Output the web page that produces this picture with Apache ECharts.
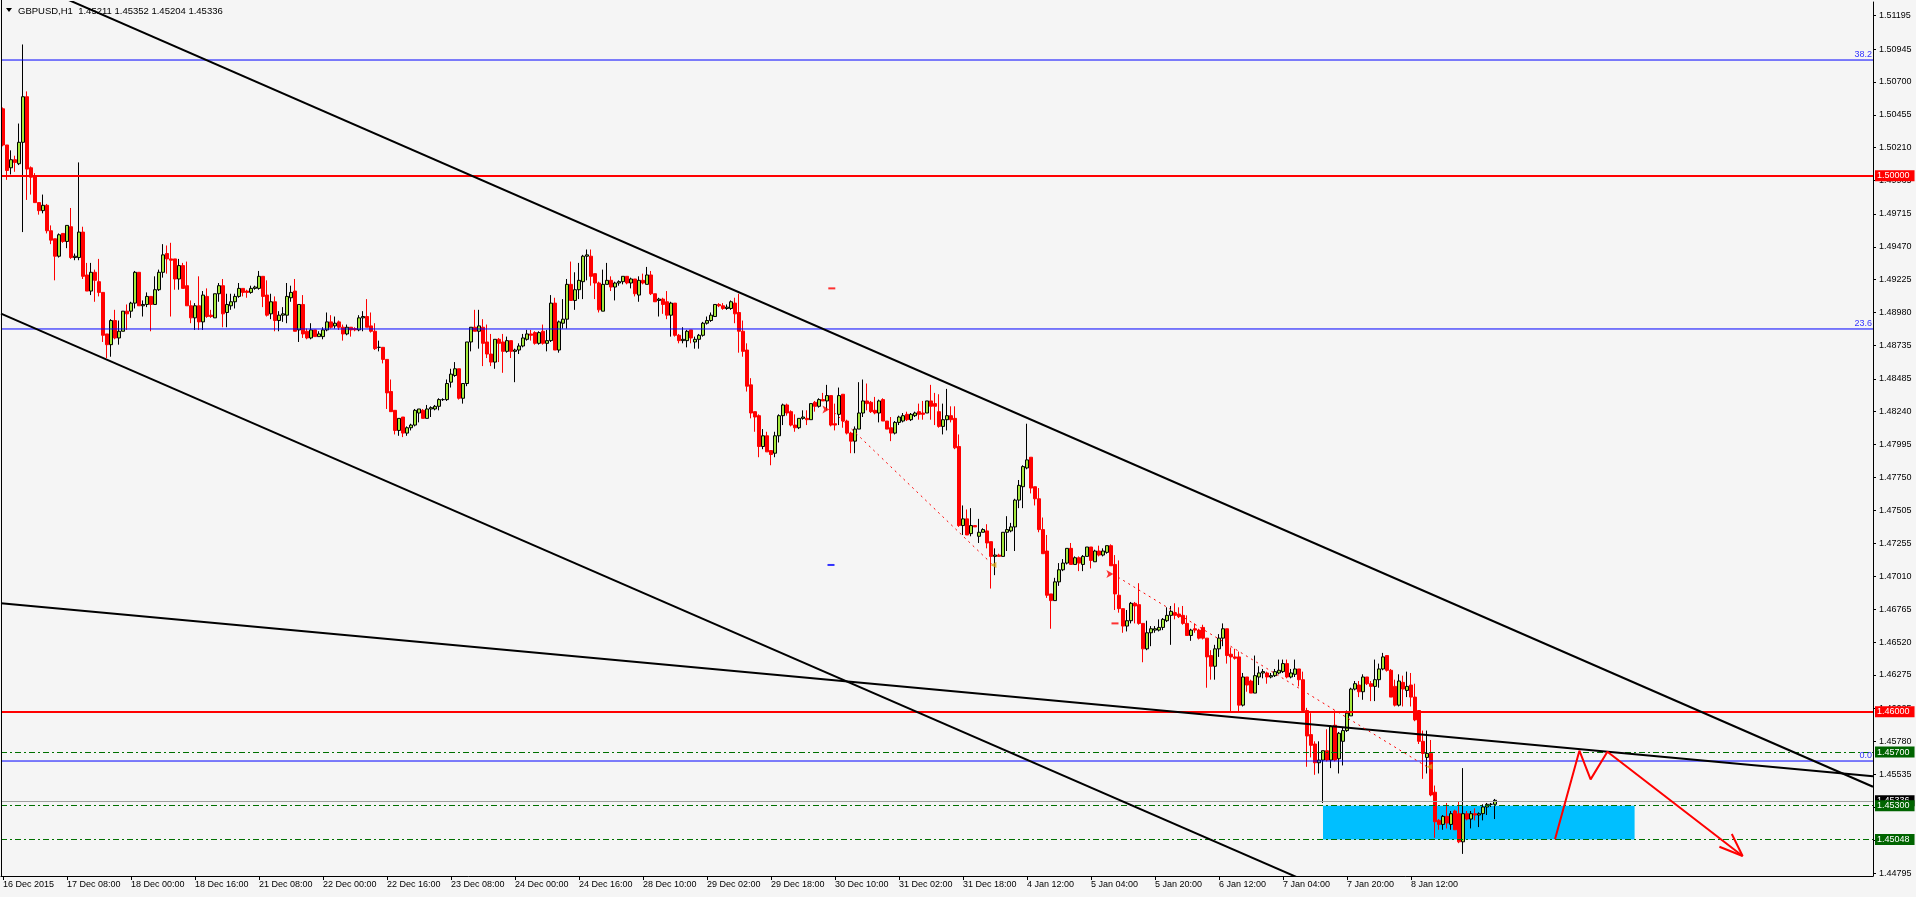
<!DOCTYPE html>
<html>
<head>
<meta charset="utf-8">
<script src="https://cdn.jsdelivr.net/npm/echarts@6/dist/echarts.min.js"></script>
<style>
html,body{margin:0;padding:0;background:#f5f5f5;}
#c{width:1916px;height:897px;}
</style>
</head>
<body>
<div id="c"></div>
<script>
// ---------------- data ----------------
const symbolTitle = 'GBPUSD,H1  1.45211 1.45352 1.45204 1.45336';
const timeLabels = ['16 Dec 2015','17 Dec 08:00','18 Dec 00:00','18 Dec 16:00','21 Dec 08:00','22 Dec 00:00','22 Dec 16:00','23 Dec 08:00','24 Dec 00:00','24 Dec 16:00','28 Dec 10:00','29 Dec 02:00','29 Dec 18:00','30 Dec 10:00','31 Dec 02:00','31 Dec 18:00','4 Jan 12:00','5 Jan 04:00','5 Jan 20:00','6 Jan 12:00','7 Jan 04:00','7 Jan 20:00','8 Jan 12:00','11 Jan 04:00'];
const yTickLabels = ['1.44795','1.45040','1.45285','1.45535','1.45780','1.46025','1.46275','1.46520','1.46765','1.47010','1.47255','1.47505','1.47750','1.47995','1.48240','1.48485','1.48735','1.48980','1.49225','1.49470','1.49715','1.49965','1.50210','1.50455','1.50700','1.50945','1.51195'];
// hourly bars: [open, high, low, close]
const ohlc = [
[1.5050,1.5051,1.5022,1.5023],[1.5023,1.5023,1.4997,1.5004],[1.5006,1.5019,1.5001,1.5012],[1.5012,1.5015,1.5003,1.5010],
[1.5009,1.5039,1.5008,1.5025],[1.5025,1.5098,1.4958,1.5059],[1.5059,1.5063,1.4982,1.5005],[1.5006,1.5007,1.4986,1.4999],
[1.5000,1.5002,1.4980,1.4980],[1.4980,1.4980,1.4971,1.4974],[1.4974,1.4986,1.4972,1.4978],[1.4978,1.4979,1.4957,1.4959],
[1.4959,1.4963,1.4949,1.4952],[1.4953,1.4953,1.4922,1.4940],[1.4940,1.4957,1.4939,1.4956],[1.4957,1.4957,1.4950,1.4951],
[1.4951,1.4963,1.4946,1.4963],[1.4962,1.4976,1.4938,1.4939],[1.4939,1.4942,1.4937,1.4940],[1.4939,1.5010,1.4937,1.4958],
[1.4958,1.4962,1.4923,1.4925],[1.4926,1.4935,1.4914,1.4914],[1.4914,1.4935,1.4911,1.4928],[1.4928,1.4930,1.4906,1.4922],
[1.4921,1.4938,1.4910,1.4913],[1.4913,1.4913,1.4876,1.4881],[1.4882,1.4882,1.4864,1.4874],[1.4874,1.4893,1.4865,1.4892],
[1.4892,1.4900,1.4878,1.4879],[1.4879,1.4892,1.4874,1.4884],[1.4884,1.4899,1.4884,1.4899],[1.4899,1.4904,1.4885,1.4897],
[1.4899,1.4906,1.4894,1.4905],[1.4905,1.4929,1.4901,1.4928],[1.4928,1.4928,1.4903,1.4903],[1.4903,1.4907,1.4895,1.4904],
[1.4904,1.4913,1.4902,1.4910],[1.4910,1.4910,1.4884,1.4904],[1.4904,1.4925,1.4904,1.4915],[1.4915,1.4930,1.4914,1.4928],
[1.4928,1.4949,1.4924,1.4941],[1.4942,1.4948,1.4927,1.4938],[1.4938,1.4950,1.4895,1.4937],[1.4938,1.4938,1.4915,1.4923],
[1.4923,1.4938,1.4915,1.4933],[1.4933,1.4935,1.4916,1.4916],[1.4918,1.4936,1.4903,1.4903],[1.4903,1.4907,1.4890,1.4894],
[1.4894,1.4905,1.4885,1.4903],[1.4903,1.4925,1.4885,1.4891],[1.4891,1.4914,1.4885,1.4911],[1.4910,1.4916,1.4894,1.4895],
[1.4896,1.4900,1.4894,1.4895],[1.4894,1.4912,1.4894,1.4912],[1.4912,1.4920,1.4906,1.4918],[1.4918,1.4923,1.4887,1.4897],
[1.4898,1.4912,1.4887,1.4904],[1.4903,1.4912,1.4900,1.4906],[1.4906,1.4912,1.4901,1.4910],[1.4910,1.4920,1.4909,1.4916],
[1.4916,1.4916,1.4910,1.4913],[1.4914,1.4915,1.4909,1.4913],[1.4913,1.4918,1.4912,1.4916],[1.4916,1.4918,1.4915,1.4917],
[1.4916,1.4929,1.4915,1.4925],[1.4925,1.4925,1.4902,1.4910],[1.4911,1.4922,1.4895,1.4896],[1.4897,1.4912,1.4893,1.4906],
[1.4906,1.4910,1.4884,1.4892],[1.4892,1.4899,1.4884,1.4896],[1.4896,1.4902,1.4891,1.4897],[1.4896,1.4920,1.4890,1.4910],
[1.4909,1.4918,1.4906,1.4913],[1.4914,1.4923,1.4884,1.4884],[1.4885,1.4904,1.4876,1.4904],[1.4904,1.4911,1.4879,1.4882],
[1.4884,1.4886,1.4878,1.4879],[1.4879,1.4890,1.4878,1.4885],[1.4885,1.4885,1.4880,1.4880],[1.4880,1.4884,1.4880,1.4882],
[1.4880,1.4887,1.4878,1.4885],[1.4885,1.4898,1.4884,1.4891],[1.4891,1.4896,1.4886,1.4887],[1.4888,1.4895,1.4886,1.4890],
[1.4891,1.4892,1.4885,1.4887],[1.4887,1.4889,1.4877,1.4882],[1.4882,1.4889,1.4881,1.4887],[1.4887,1.4887,1.4880,1.4885],
[1.4886,1.4887,1.4884,1.4885],[1.4885,1.4896,1.4884,1.4894],[1.4894,1.4899,1.4884,1.4895],[1.4895,1.4908,1.4887,1.4887],
[1.4888,1.4898,1.4883,1.4884],[1.4884,1.4890,1.4870,1.4871],[1.4872,1.4877,1.4869,1.4872],[1.4872,1.4872,1.4860,1.4863],
[1.4863,1.4863,1.4826,1.4838],[1.4839,1.4848,1.4824,1.4824],[1.4825,1.4825,1.4807,1.4810],[1.4810,1.4819,1.4806,1.4819],
[1.4820,1.4820,1.4805,1.4808],[1.4808,1.4813,1.4806,1.4812],[1.4812,1.4815,1.4810,1.4814],[1.4814,1.4826,1.4813,1.4825],
[1.4823,1.4826,1.4816,1.4826],[1.4825,1.4826,1.4819,1.4819],[1.4819,1.4829,1.4819,1.4826],[1.4826,1.4828,1.4820,1.4827],
[1.4826,1.4829,1.4825,1.4828],[1.4828,1.4834,1.4825,1.4833],[1.4833,1.4834,1.4832,1.4833],[1.4833,1.4848,1.4832,1.4845],
[1.4846,1.4856,1.4842,1.4852],[1.4851,1.4861,1.4850,1.4856],[1.4856,1.4856,1.4833,1.4834],[1.4834,1.4845,1.4830,1.4845],
[1.4845,1.4876,1.4843,1.4876],[1.4876,1.4887,1.4869,1.4887],[1.4887,1.4900,1.4884,1.4884],[1.4884,1.4900,1.4871,1.4888],
[1.4887,1.4893,1.4858,1.4875],[1.4876,1.4889,1.4864,1.4867],[1.4867,1.4882,1.4858,1.4861],[1.4861,1.4878,1.4856,1.4878],
[1.4878,1.4879,1.4861,1.4875],[1.4876,1.4882,1.4853,1.4869],[1.4869,1.4880,1.4868,1.4877],[1.4877,1.4877,1.4864,1.4869],
[1.4869,1.4871,1.4846,1.4870],[1.4870,1.4875,1.4867,1.4873],[1.4873,1.4882,1.4872,1.4879],[1.4878,1.4885,1.4877,1.4882],
[1.4882,1.4885,1.4877,1.4881],[1.4883,1.4884,1.4874,1.4875],[1.4875,1.4884,1.4874,1.4883],[1.4884,1.4889,1.4874,1.4875],
[1.4875,1.4885,1.4869,1.4877],[1.4877,1.4911,1.4876,1.4905],[1.4905,1.4909,1.4870,1.4870],[1.4870,1.4892,1.4868,1.4891],
[1.4890,1.4908,1.4886,1.4893],[1.4893,1.4923,1.4886,1.4919],[1.4919,1.4936,1.4907,1.4907],[1.4907,1.4928,1.4900,1.4915],
[1.4915,1.4935,1.4908,1.4922],[1.4921,1.4941,1.4908,1.4940],[1.4940,1.4945,1.4922,1.4941],[1.4940,1.4945,1.4918,1.4925],
[1.4927,1.4927,1.4908,1.4920],[1.4920,1.4921,1.4898,1.4900],[1.4899,1.4930,1.4899,1.4919],[1.4919,1.4935,1.4919,1.4922],
[1.4922,1.4925,1.4914,1.4917],[1.4917,1.4921,1.4907,1.4920],[1.4920,1.4922,1.4918,1.4921],[1.4921,1.4925,1.4919,1.4925],
[1.4925,1.4925,1.4919,1.4920],[1.4920,1.4924,1.4916,1.4923],[1.4923,1.4923,1.4910,1.4912],[1.4911,1.4925,1.4906,1.4922],
[1.4922,1.4927,1.4919,1.4920],[1.4919,1.4932,1.4919,1.4926],[1.4926,1.4929,1.4911,1.4912],[1.4912,1.4912,1.4906,1.4906],
[1.4907,1.4909,1.4895,1.4908],[1.4908,1.4909,1.4897,1.4904],[1.4906,1.4914,1.4893,1.4896],[1.4896,1.4906,1.4880,1.4905],
[1.4905,1.4905,1.4880,1.4881],[1.4881,1.4882,1.4875,1.4877],[1.4877,1.4887,1.4875,1.4878],[1.4877,1.4885,1.4872,1.4884],
[1.4885,1.4885,1.4875,1.4879],[1.4876,1.4880,1.4871,1.4878],[1.4878,1.4882,1.4871,1.4881],[1.4881,1.4891,1.4880,1.4890],
[1.4890,1.4895,1.4889,1.4892],[1.4892,1.4898,1.4891,1.4896],[1.4895,1.4904,1.4895,1.4904],[1.4904,1.4905,1.4902,1.4903],
[1.4903,1.4905,1.4900,1.4901],[1.4901,1.4904,1.4900,1.4902],[1.4901,1.4907,1.4900,1.4906],[1.4905,1.4909,1.4890,1.4897],
[1.4898,1.4912,1.4868,1.4884],[1.4884,1.4892,1.4865,1.4869],[1.4870,1.4875,1.4839,1.4843],[1.4844,1.4849,1.4819,1.4823],
[1.4824,1.4824,1.4809,1.4820],[1.4821,1.4822,1.4790,1.4798],[1.4798,1.4811,1.4796,1.4806],[1.4806,1.4809,1.4794,1.4794],
[1.4795,1.4795,1.4784,1.4792],[1.4793,1.4809,1.4790,1.4806],[1.4806,1.4822,1.4801,1.4821],[1.4821,1.4830,1.4814,1.4829],
[1.4829,1.4830,1.4821,1.4823],[1.4824,1.4825,1.4813,1.4814],[1.4814,1.4822,1.4809,1.4812],[1.4812,1.4819,1.4811,1.4819],
[1.4819,1.4825,1.4818,1.4820],[1.4819,1.4825,1.4814,1.4818],[1.4818,1.4830,1.4818,1.4830],[1.4831,1.4832,1.4824,1.4828],
[1.4828,1.4834,1.4827,1.4833],[1.4833,1.4838,1.4832,1.4832],[1.4832,1.4844,1.4825,1.4836],[1.4836,1.4836,1.4813,1.4814],
[1.4815,1.4830,1.4810,1.4814],[1.4822,1.4842,1.4814,1.4836],[1.4837,1.4837,1.4812,1.4817],[1.4817,1.4818,1.4807,1.4808],
[1.4808,1.4809,1.4793,1.4802],[1.4802,1.4813,1.4793,1.4811],[1.4811,1.4846,1.4811,1.4823],[1.4823,1.4848,1.4820,1.4832],
[1.4832,1.4845,1.4825,1.4830],[1.4831,1.4832,1.4823,1.4824],[1.4825,1.4835,1.4822,1.4823],[1.4823,1.4833,1.4816,1.4832],
[1.4833,1.4834,1.4817,1.4817],[1.4817,1.4817,1.4811,1.4811],[1.4812,1.4820,1.4802,1.4808],[1.4808,1.4817,1.4807,1.4816],
[1.4816,1.4821,1.4814,1.4820],[1.4817,1.4823,1.4816,1.4821],[1.4822,1.4824,1.4817,1.4818],[1.4818,1.4823,1.4817,1.4822],
[1.4821,1.4824,1.4820,1.4823],[1.4824,1.4830,1.4818,1.4822],[1.4823,1.4832,1.4818,1.4822],[1.4823,1.4832,1.4823,1.4832],
[1.4832,1.4844,1.4818,1.4828],[1.4830,1.4838,1.4814,1.4828],[1.4824,1.4837,1.4812,1.4813],[1.4813,1.4830,1.4807,1.4818],
[1.4818,1.4841,1.4810,1.4821],[1.4821,1.4828,1.4816,1.4818],[1.4819,1.4828,1.4796,1.4797],[1.4798,1.4807,1.4738,1.4739],
[1.4739,1.4754,1.4732,1.4744],[1.4744,1.4751,1.4732,1.4732],[1.4733,1.4752,1.4731,1.4739],[1.4739,1.4739,1.4738,1.4738],
[1.4731,1.4744,1.4726,1.4734],[1.4734,1.4737,1.4734,1.4736],[1.4735,1.4740,1.4722,1.4726],[1.4727,1.4727,1.4692,1.4716],
[1.4716,1.4722,1.4702,1.4717],[1.4717,1.4718,1.4716,1.4716],[1.4716,1.4734,1.4716,1.4734],[1.4734,1.4746,1.4720,1.4736],
[1.4735,1.4741,1.4734,1.4738],[1.4738,1.4759,1.4720,1.4758],[1.4758,1.4773,1.4752,1.4769],[1.4768,1.4784,1.4752,1.4783],
[1.4782,1.4815,1.4781,1.4788],[1.4790,1.4790,1.4763,1.4767],[1.4768,1.4768,1.4754,1.4759],[1.4759,1.4767,1.4734,1.4736],
[1.4736,1.4745,1.4718,1.4718],[1.4720,1.4732,1.4685,1.4687],[1.4688,1.4688,1.4662,1.4683],[1.4683,1.4700,1.4683,1.4697],
[1.4697,1.4711,1.4694,1.4706],[1.4706,1.4714,1.4705,1.4711],[1.4711,1.4722,1.4710,1.4722],[1.4722,1.4726,1.4710,1.4710],
[1.4710,1.4716,1.4710,1.4715],[1.4715,1.4716,1.4705,1.4711],[1.4710,1.4717,1.4705,1.4716],[1.4716,1.4723,1.4716,1.4723],
[1.4723,1.4723,1.4707,1.4713],[1.4712,1.4721,1.4712,1.4720],[1.4720,1.4724,1.4716,1.4717],[1.4717,1.4722,1.4716,1.4720],
[1.4719,1.4724,1.4718,1.4724],[1.4724,1.4725,1.4709,1.4709],[1.4710,1.4717,1.4676,1.4688],[1.4687,1.4713,1.4674,1.4677],
[1.4677,1.4677,1.4659,1.4664],[1.4664,1.4676,1.4660,1.4668],[1.4668,1.4682,1.4666,1.4681],[1.4681,1.4682,1.4666,1.4679],
[1.4680,1.4696,1.4665,1.4666],[1.4666,1.4666,1.4637,1.4647],[1.4647,1.4668,1.4646,1.4659],[1.4659,1.4664,1.4649,1.4662],
[1.4661,1.4664,1.4659,1.4662],[1.4661,1.4669,1.4660,1.4663],[1.4663,1.4670,1.4661,1.4669],[1.4668,1.4678,1.4667,1.4672],
[1.4672,1.4679,1.4650,1.4675],[1.4674,1.4681,1.4669,1.4672],[1.4673,1.4678,1.4670,1.4671],[1.4672,1.4679,1.4665,1.4666],
[1.4666,1.4672,1.4657,1.4657],[1.4657,1.4662,1.4653,1.4661],[1.4662,1.4666,1.4659,1.4661],[1.4661,1.4662,1.4654,1.4655],
[1.4663,1.4665,1.4654,1.4655],[1.4655,1.4655,1.4618,1.4641],[1.4642,1.4646,1.4624,1.4634],[1.4634,1.4650,1.4624,1.4647],
[1.4647,1.4658,1.4641,1.4655],[1.4655,1.4666,1.4649,1.4662],[1.4662,1.4662,1.4636,1.4642],[1.4643,1.4648,1.4600,1.4641],
[1.4641,1.4647,1.4639,1.4640],[1.4641,1.4645,1.4600,1.4605],[1.4605,1.4629,1.4604,1.4626],[1.4626,1.4626,1.4615,1.4620],
[1.4623,1.4624,1.4614,1.4614],[1.4614,1.4642,1.4614,1.4627],[1.4626,1.4634,1.4620,1.4629],[1.4629,1.4632,1.4625,1.4630],
[1.4629,1.4630,1.4621,1.4626],[1.4626,1.4629,1.4625,1.4627],[1.4627,1.4632,1.4626,1.4630],[1.4629,1.4639,1.4628,1.4631],
[1.4630,1.4639,1.4629,1.4636],[1.4636,1.4639,1.4625,1.4626],[1.4626,1.4632,1.4625,1.4629],[1.4628,1.4639,1.4626,1.4632],
[1.4632,1.4632,1.4619,1.4624],[1.4624,1.4630,1.4600,1.4601],[1.4601,1.4603,1.4559,1.4582],[1.4583,1.4599,1.4566,1.4575],
[1.4576,1.4578,1.4553,1.4562],[1.4562,1.4578,1.4554,1.4564],[1.4564,1.4571,1.4532,1.4571],[1.4571,1.4587,1.4563,1.4564],
[1.4564,1.4590,1.4558,1.4589],[1.4590,1.4601,1.4563,1.4564],[1.4565,1.4585,1.4554,1.4584],[1.4578,1.4588,1.4560,1.4586],
[1.4586,1.4601,1.4585,1.4599],[1.4597,1.4618,1.4597,1.4617],[1.4617,1.4623,1.4616,1.4621],[1.4620,1.4623,1.4611,1.4615],
[1.4615,1.4628,1.4609,1.4626],[1.4626,1.4626,1.4620,1.4621],[1.4621,1.4623,1.4608,1.4619],[1.4619,1.4639,1.4608,1.4624],
[1.4624,1.4636,1.4618,1.4632],[1.4632,1.4644,1.4631,1.4641],[1.4642,1.4642,1.4630,1.4631],[1.4631,1.4632,1.4611,1.4611],
[1.4619,1.4624,1.4604,1.4605],[1.4605,1.4628,1.4604,1.4623],[1.4622,1.4627,1.4604,1.4617],[1.4616,1.4630,1.4611,1.4619],
[1.4620,1.4629,1.4604,1.4611],[1.4611,1.4621,1.4593,1.4594],[1.4601,1.4601,1.4576,1.4578],[1.4578,1.4586,1.4550,1.4569],
[1.4566,1.4586,1.4554,1.4569],[1.4569,1.4579,1.4537,1.4538],[1.4540,1.4545,1.4506,1.4518],[1.4519,1.4520,1.4512,1.4516],
[1.4516,1.4523,1.4512,1.4522],[1.4522,1.4532,1.4513,1.4517],[1.4516,1.4526,1.4512,1.4524],[1.4526,1.4527,1.4512,1.4512],
[1.4524,1.4533,1.4502,1.4503],[1.4503,1.4558,1.4494,1.4524],[1.4524,1.4526,1.4519,1.4520],[1.4520,1.4526,1.4513,1.4524],
[1.4524,1.4528,1.4519,1.4523],[1.4523,1.4525,1.4514,1.4524],[1.4524,1.4531,1.4519,1.4529],[1.4529,1.4532,1.4523,1.4531],
[1.4531,1.4532,1.4529,1.4531],[1.4531,1.4535,1.4520,1.4534]
];
// horizontal levels
const redLevels = [1.50000, 1.46000];
const greenLevels = [1.45700, 1.45300, 1.45048];
const bidLevel = 1.45336;
const fibLevels = [1.50864, 1.48857, 1.45633];
const fibNames = ['38.2', '23.6', '0.0'];
// drawn objects, in [bar index, price]
const supportZone = [[330, 1.45300], [407.9, 1.45048]];
const upperChannel = [[-0.5, 1.51532], [467.5, 1.45441]];
const lowerChannel = [[-0.5, 1.48971], [350, 1.44422]];
const flatTrend = [[-0.5, 1.46811], [467.5, 1.45519]];
const tradeLineA = [[206.75, 1.48265], [247.5, 1.47096]];
const tradeLineB = [[277.5, 1.47028], [356, 1.45590]];
const forecastPath = [[388, 1.45049], [394.1, 1.45710], [396.9, 1.45496], [401.1, 1.45702], [434.9, 1.44924]];
const forecastHead = [[429.1, 1.44993], [434.9, 1.44924], [432.2, 1.45088]];
const entryArrows = [[206.6, 1.48257], [277.6, 1.47028]];
const exitMarks = [[247.6, 1.47096], [356.6, 1.45590]];
const stopMarks = [[207.2, 1.49160], [278, 1.46660]];
const targetMarks = [[207, 1.47096]];

// ---------------- chart ----------------
const SLOTS = 468;
const LABEL_STEP = 16;
const Y_MIN = 1.44775, Y_MAX = 1.51297;
const FONT = '"Liberation Sans", Arial, sans-serif';
const BULL = '#A4E83C';
const cats = Array.from({length: SLOTS}, (_, i) => String(i));
const candleData = ohlc.map(r => [r[0], r[3], r[2], r[1]]);
const yTicks = yTickLabels.map(Number);
const showTime = (i) => i % LABEL_STEP === 0 && (i / LABEL_STEP) < timeLabels.length;

function priceBox(bg) {
  return {
    show: true, position: 'end', distance: 2,
    formatter: (p) => Number(p.value).toFixed(5),
    color: '#ffffff', backgroundColor: bg, padding: [1, 5, 0, 2],
    fontSize: 9, fontFamily: FONT, lineHeight: 10
  };
}
const markLines = [];
markLines.push({yAxis: bidLevel, lineStyle: {color: '#a0a0a0', width: 1, type: 'solid'}, label: priceBox('#000000')});
fibLevels.forEach((v, k) => markLines.push({
  yAxis: v, lineStyle: {color: 'rgba(0,0,255,0)', width: 1},
  label: {show: true, position: 'insideEndTop', distance: 1, formatter: fibNames[k], color: '#3333ff', fontSize: 9, fontFamily: FONT}
}));
greenLevels.forEach(v => markLines.push({yAxis: v, lineStyle: {color: '#007000', width: 1, type: [6, 3, 2, 3]}, label: priceBox('#006400')}));
redLevels.forEach(v => markLines.push({yAxis: v, lineStyle: {color: '#ff0000', width: 2, type: 'solid'}, label: priceBox('#ff0000')}));

function seg(data, color, width, type, z) {
  return {type: 'line', xAxisIndex: 1, yAxisIndex: 0, data: data, showSymbol: false, symbol: 'none',
    clip: true, silent: true, z: z || 6, lineStyle: {color: color, width: width, type: type || 'solid'}};
}
const fibSeries = fibLevels.map(v => seg([[-0.5, v], [SLOTS - 0.5, v]], '#0000ff', 1, 'solid', 4));

const chart = echarts.init(document.getElementById('c'), null, {renderer: 'canvas'});
chart.setOption({
  animation: false,
  backgroundColor: '#f5f5f5',
  grid: {left: 1, right: 43, top: 2, bottom: 21, containLabel: false},
  xAxis: [{
    type: 'category', data: cats, boundaryGap: true, position: 'bottom',
    axisLine: {show: true, lineStyle: {color: '#000000', width: 1}},
    axisTick: {show: true, alignWithLabel: true, interval: (i) => showTime(i), length: 4, lineStyle: {color: '#000000'}},
    axisLabel: {show: true, interval: (i) => showTime(i), formatter: (v, i) => showTime(i) ? timeLabels[i / LABEL_STEP] : '',
      align: 'left', margin: 4, fontSize: 9, fontFamily: FONT, color: '#000000', showMinLabel: true, showMaxLabel: false},
    splitLine: {show: false}
  }, {
    type: 'value', min: -0.5, max: SLOTS - 0.5, show: false
  }],
  yAxis: {
    type: 'value', position: 'right', min: Y_MIN, max: Y_MAX,
    axisLine: {show: true, onZero: false, lineStyle: {color: '#000000', width: 1}},
    axisTick: {show: true, inside: false, length: 3, customValues: yTicks, lineStyle: {color: '#000000'}},
    axisLabel: {show: true, customValues: yTicks, formatter: (v) => v.toFixed(5), margin: 6, fontSize: 9, fontFamily: FONT, color: '#000000'},
    splitLine: {show: false}
  },
  series: [
    {type: 'line', xAxisIndex: 1, data: [], z: 1, silent: true,
      markArea: {silent: true, itemStyle: {color: '#00bfff', opacity: 1}, data: [[{coord: supportZone[0]}, {coord: supportZone[1]}]]}},
    {type: 'candlestick', xAxisIndex: 0, yAxisIndex: 0, data: candleData, barWidth: 3, z: 3, silent: true,
      itemStyle: {color: BULL, color0: '#ff0000', borderColor: '#000000', borderColor0: '#ff0000', borderWidth: 1}},
    ...fibSeries,
    {type: 'line', xAxisIndex: 1, data: [], z: 5, silent: true,
      markLine: {silent: true, symbol: 'none', animation: false, precision: 5, data: markLines}},
    seg(upperChannel, '#000000', 2),
    seg(lowerChannel, '#000000', 2),
    seg(flatTrend, '#000000', 2),
    seg(tradeLineA, '#ff0000', 1, [2, 4]),
    seg(tradeLineB, '#ff0000', 1, [2, 4]),
    seg(forecastPath, '#ff0000', 2),
    seg(forecastHead, '#ff0000', 2),
    {type: 'scatter', xAxisIndex: 1, data: entryArrows, symbol: 'arrow', symbolSize: [6, 7], symbolRotate: -90, z: 7, silent: true, itemStyle: {color: '#ff0000'}},
    {type: 'scatter', xAxisIndex: 1, data: exitMarks, symbol: 'triangle', symbolSize: [6, 6], symbolRotate: 90, z: 7, silent: true, itemStyle: {color: '#d4a017'}},
    {type: 'scatter', xAxisIndex: 1, data: stopMarks, symbol: 'rect', symbolSize: [7, 2], z: 7, silent: true, itemStyle: {color: '#ff0000'}},
    {type: 'scatter', xAxisIndex: 1, data: targetMarks, symbol: 'rect', symbolSize: [7, 2], z: 7, silent: true, itemStyle: {color: '#0000ff'}}
  ],
  graphic: [
    {type: 'line', silent: true, shape: {x1: 1.5, y1: 0, x2: 1.5, y2: 876}, style: {stroke: '#000000', lineWidth: 1}, z: 10},
    {type: 'polygon', silent: true, shape: {points: [[6, 8], [12, 8], [9, 12]]}, style: {fill: '#000000'}, z: 10},
    {type: 'text', silent: true, x: 18, y: 11, style: {text: symbolTitle, fill: '#000000', font: '9.5px ' + FONT, verticalAlign: 'middle', align: 'left'}, z: 10}
  ]
});
</script>
</body>
</html>
